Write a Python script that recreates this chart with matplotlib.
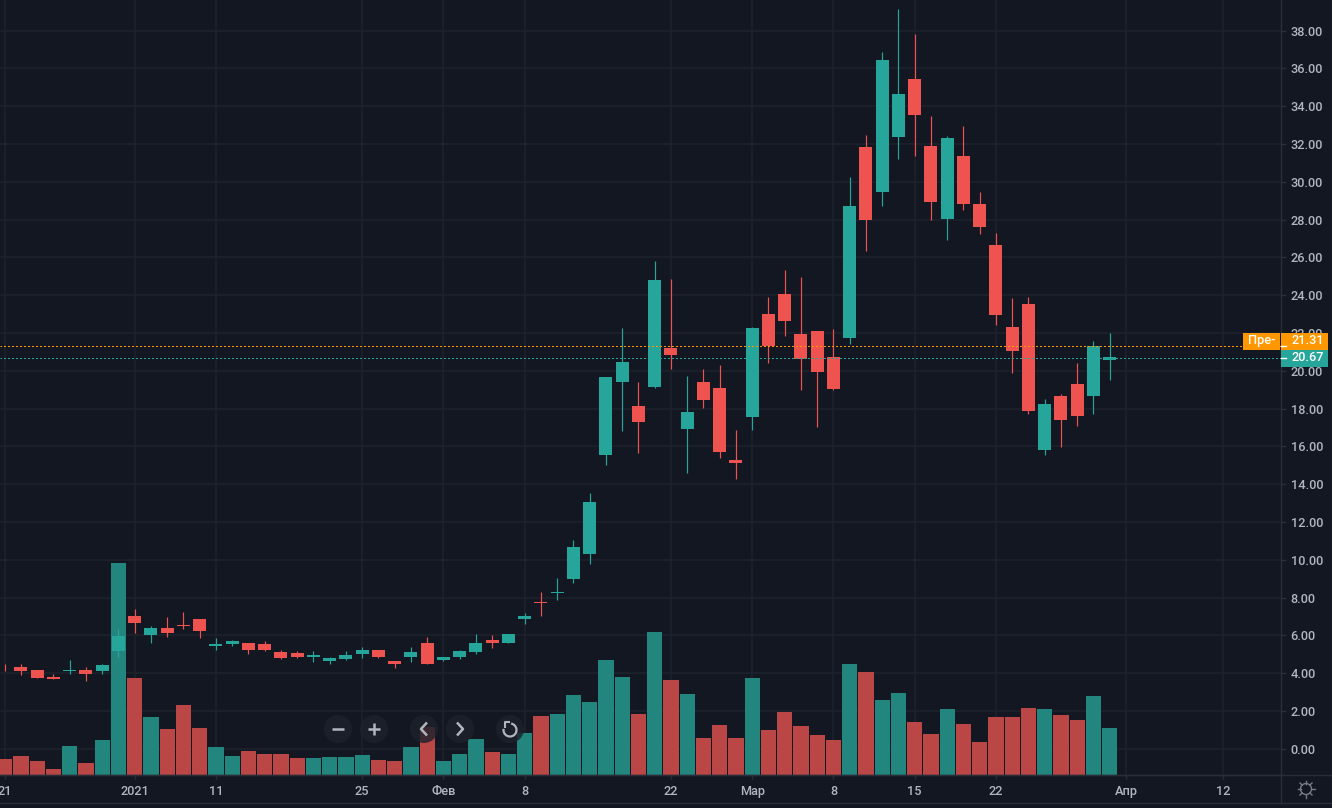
import numpy as np
import matplotlib
matplotlib.use("Agg")
import matplotlib.pyplot as plt
from matplotlib.patches import Circle, Rectangle, Arc

plt.rcParams['font.family'] = ['Roboto', 'DejaVu Sans']

opens = [4.19, 4.30, 4.14, 3.77, 4.09, 4.19, 4.09, 5.15, 7.00, 6.00, 6.37, 6.53, 6.84, 5.41, 5.52, 5.62, 5.52,
         5.10, 5.04, 4.83, 4.62, 4.73, 4.99, 5.20, 4.62, 4.83, 5.57, 4.67, 4.83, 5.10, 5.78, 5.62, 6.84, 7.79,
         8.22, 8.96, 10.28, 15.52, 19.38, 18.11, 19.12, 21.18, 16.90, 19.38, 19.07, 15.26, 17.58, 23.03, 24.04,
         21.92, 22.08, 20.71, 21.71, 31.82, 29.44, 32.35, 35.42, 31.87, 28.01, 31.34, 28.80, 26.63, 22.29, 23.51,
         15.79, 18.64, 19.28, 18.64, 20.55]
highs = [4.51, 4.46, 4.14, 3.93, 4.72, 4.30, 4.51, 6.31, 7.37, 6.47, 6.95, 7.21, 6.84, 5.84, 5.78, 5.62, 5.68,
         5.25, 5.15, 5.15, 4.83, 5.15, 5.36, 5.20, 4.62, 5.36, 5.89, 4.88, 5.20, 6.05, 6.00, 6.05, 7.16, 8.27,
         9.06, 11.07, 13.51, 19.65, 22.24, 19.38, 25.79, 24.83, 19.70, 20.07, 20.28, 16.84, 22.29, 23.88, 25.31,
         24.94, 22.08, 22.19, 30.28, 32.45, 36.85, 39.12, 37.80, 33.46, 32.40, 32.93, 29.44, 27.27, 23.83, 23.93,
         18.49, 18.75, 20.39, 21.55, 21.98]
lows = [4.11, 3.88, 3.72, 3.67, 3.98, 3.61, 3.98, 4.83, 6.10, 5.57, 5.89, 6.31, 5.84, 5.25, 5.41, 4.99, 5.15,
        4.73, 4.78, 4.57, 4.51, 4.67, 4.78, 4.78, 4.25, 4.57, 4.51, 4.62, 4.73, 4.99, 5.31, 5.57, 6.58, 7.00,
        7.85, 8.75, 9.75, 14.99, 16.79, 15.63, 19.07, 20.12, 14.57, 18.01, 15.36, 14.25, 16.84, 20.39, 21.82,
        18.96, 17.05, 18.96, 21.40, 26.32, 28.70, 31.18, 31.34, 27.96, 26.90, 28.49, 27.22, 22.40, 19.86, 17.69,
        15.52, 15.95, 17.06, 17.69, 19.49]
closes = [4.14, 4.09, 3.72, 3.67, 4.19, 3.93, 4.41, 5.94, 6.63, 6.37, 6.15, 6.47, 6.21, 5.52, 5.68, 5.20, 5.25,
          4.78, 4.88, 4.94, 4.78, 4.94, 5.25, 4.83, 4.46, 5.10, 4.51, 4.88, 5.15, 5.62, 5.57, 6.05, 7.05, 7.69,
          8.27, 10.65, 13.03, 19.65, 20.49, 17.27, 24.78, 20.81, 17.80, 18.43, 15.68, 15.10, 22.24, 21.29, 22.66,
          20.60, 19.91, 19.01, 28.70, 27.96, 36.42, 34.62, 33.51, 28.91, 32.30, 28.80, 27.59, 22.93, 21.02, 17.85,
          18.22, 17.37, 17.59, 21.29, 20.71]
volumes = [0.85, 1.00, 0.74, 0.32, 1.53, 0.63, 1.85, 11.20, 5.13, 3.07, 2.43, 3.70, 2.49, 1.48, 1.00, 1.27, 1.11,
           1.11, 0.90, 0.90, 0.95, 0.95, 1.06, 0.79, 0.74, 1.48, 2.54, 0.74, 1.11, 1.90, 1.22, 1.11, 2.22, 3.12,
           3.23, 4.23, 3.86, 6.08, 5.19, 3.23, 7.57, 5.03, 4.29, 1.96, 2.65, 1.96, 5.13, 2.38, 3.33, 2.59, 2.12,
           1.85, 5.87, 5.45, 3.97, 4.34, 2.80, 2.17, 3.49, 2.70, 1.75, 3.07, 3.07, 3.54, 3.49, 3.17, 2.91, 4.18, 2.49]

date_ticks = [0, 8, 13, 22, 27, 32, 41, 46, 51, 56, 61, 69, 75]
date_labels = ["21", "2021", "11", "25", "Фев", "8", "22", "Мар", "8", "15", "22", "Апр", "12"]
price_ticks = list(range(0, 40, 2))
pre_price = 21.31
last_price = 20.67

BG = "#131722"
GRID = "#1e222d"
BORDER = "#2a2e39"
TEXT = "#b2b5be"
UP = "#26a69a"
DOWN = "#ef5350"
ORANGE = "#ff9800"
W, H = 1332, 808
FS = 9.2

fig = plt.figure(figsize=(W / 100, H / 100), dpi=100, facecolor=BG)
ax = fig.add_axes([0, 1 - 775 / H, 1281 / W, 775 / H], facecolor=BG)

idx = np.arange(len(opens))
opens, highs, lows, closes = map(np.array, (opens, highs, lows, closes))
up = closes >= opens
colors = np.where(up, UP, DOWN)
vol_colors = np.where(up, "#22867e", "#bb4646")

y_min, y_max = -1.39, 39.62
ax.set_xlim(-0.29, 78.54)
ax.set_ylim(y_min, y_max)

# volume sits on the bottom edge, same pixel scale as price
ax.bar(idx, volumes, width=0.93, bottom=y_min, color=vol_colors, zorder=2)
ax.vlines(idx, lows, highs, color=colors, linewidth=0.85, zorder=3)
ax.bar(idx, np.maximum(np.abs(closes - opens), 0.05), bottom=np.minimum(opens, closes),
       width=0.8, color=colors, zorder=4)

# dotted price lines, 2px on 2px off
ax.axhline(pre_price, color=ORANGE, linewidth=0.72, linestyle=(0.5, (2, 2)), dash_capstyle="butt", zorder=5)
ax.axhline(last_price, color=UP, linewidth=0.72, linestyle=(0.5, (2, 2)), dash_capstyle="butt", zorder=5)

ax.set_xticks(date_ticks, date_labels)
ax.set_yticks(price_ticks, [f"{p:.2f}" for p in price_ticks])
ax.yaxis.tick_right()
ax.grid(True, color=GRID, linewidth=1.1, zorder=0)
ax.set_axisbelow(True)
ax.tick_params(axis='x', colors=BORDER, labelcolor=TEXT, labelsize=FS, length=3, width=1, pad=4)
ax.tick_params(axis='y', colors=BORDER, labelcolor=TEXT, labelsize=FS, length=3.6, width=1, pad=3.4)
for label in ax.get_xticklabels() + ax.get_yticklabels():
    label.set_fontweight("medium")
for name, spine in ax.spines.items():
    spine.set_visible(name in ("bottom", "right"))
    spine.set_color(BORDER)
    spine.set_linewidth(1)

# overlay in pixel coordinates for the chart widgets
ui = fig.add_axes([0, 0, 1, 1], facecolor="none")
ui.set_xlim(0, W)
ui.set_ylim(H, 0)
ui.axis("off")
ui.plot([0, W], [775, 775], color=BORDER, linewidth=1)
ui.plot([0, W], [803, 803], color=BORDER, linewidth=1)
ui.plot([1281, 1281], [775, 803], color=BORDER, linewidth=1)

last_y = ui.transData.inverted().transform(ax.transData.transform((0, last_price)))[1]
ui.add_patch(Rectangle((1243, last_y - 25.5), 37, 17, color=ORANGE, linewidth=0))
ui.add_patch(Rectangle((1281, last_y - 25.5), 46.5, 17, color=ORANGE, linewidth=0))
ui.add_patch(Rectangle((1281, last_y - 8.5), 46.5, 17, color=UP, linewidth=0))
ui.plot([1281, 1286], [last_y - 12, last_y - 12], color="white", linewidth=1)
ui.plot([1281, 1286], [last_y, last_y], color="white", linewidth=1)
ui.text(1261.5, last_y - 17.5, "Пре-", color="white", fontsize=FS, fontweight="medium", ha="center", va="center")
ui.text(1291, last_y - 17.5, f"{pre_price:.2f}", color="white", fontsize=FS, fontweight="medium", ha="left", va="center")
ui.text(1291, last_y - 0.5, f"{last_price:.2f}", color="white", fontsize=FS, fontweight="medium", ha="left", va="center")

# zoom / scroll buttons
btn_y = 729
for bx in (338, 374, 424, 460, 510):
    ui.add_patch(Circle((bx, btn_y), 14, facecolor="#1e222d", alpha=0.82, linewidth=0, zorder=6))
icon = dict(color="#b2b5be", linewidth=1.8, zorder=7, solid_capstyle="butt")
ui.plot([332, 344], [btn_y, btn_y], **icon)
ui.plot([368, 380], [btn_y, btn_y], **icon)
ui.plot([374, 374], [btn_y - 6, btn_y + 6], **icon)
ui.plot([427, 421, 427], [btn_y - 6.5, btn_y, btn_y + 6.5], **icon)
ui.plot([457, 463, 457], [btn_y - 6.5, btn_y, btn_y + 6.5], **icon)
ui.add_patch(Arc((510, btn_y + 1), 13, 13, theta1=-80, theta2=190, color="#b2b5be", linewidth=1.6, zorder=7))
ui.plot([509, 504.5, 504.5], [btn_y - 7, btn_y - 7, btn_y - 2], color="#b2b5be", linewidth=1.5, zorder=7)

# settings icon
ui.add_patch(Circle((1306, 789), 5.5, facecolor="none", edgecolor="#787b86", linewidth=1))
for a in np.deg2rad(np.arange(0, 360, 45)):
    ui.plot([1306 + 5.5 * np.cos(a), 1306 + 8.5 * np.cos(a)],
            [789 + 5.5 * np.sin(a), 789 + 8.5 * np.sin(a)], color="#787b86", linewidth=1)

fig.savefig("out.png", dpi=100, facecolor=BG)
